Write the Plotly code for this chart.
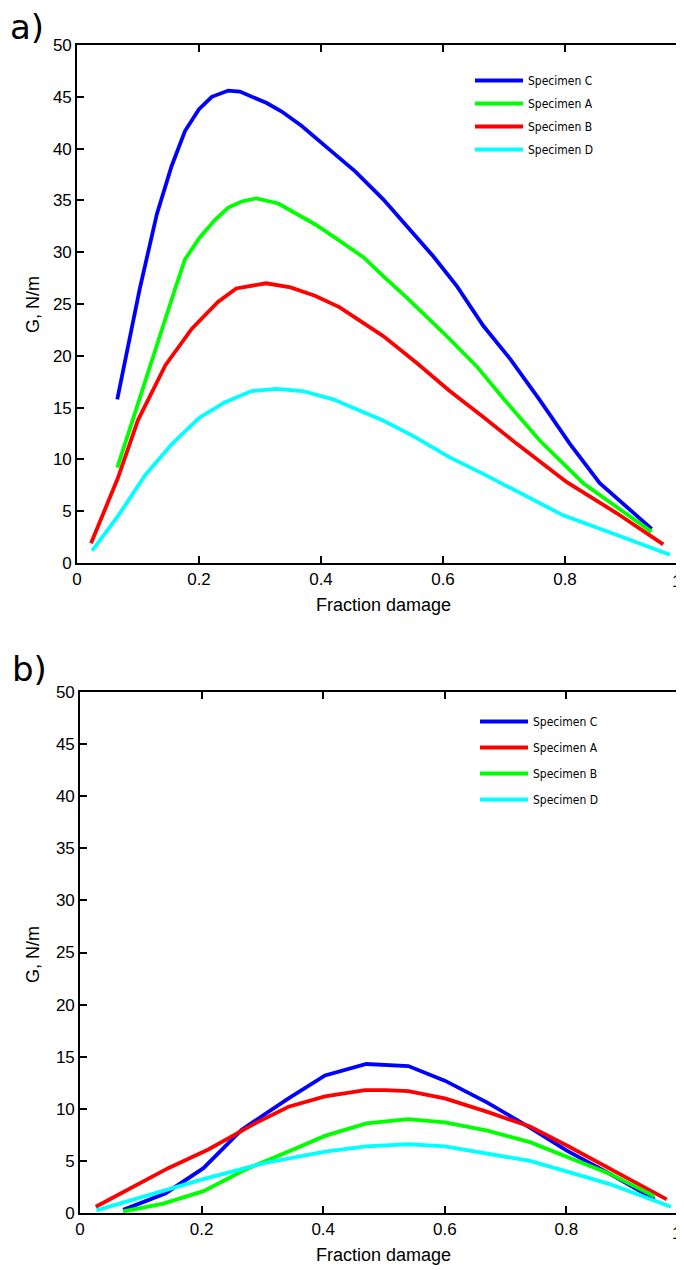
import plotly.graph_objects as go

# The page places the figure 8 px from the window's top-left corner,
# so the figure is 8 px smaller than the window and all positions are offset.
OFF = 8
WIN_W, WIN_H = 684, 1270
W, H = WIN_W - OFF, WIN_H - OFF

# ---------------- panel a) data ----------------
a_C_x = [0.066, 0.103, 0.131, 0.155, 0.177, 0.200, 0.221, 0.248, 0.267, 0.311, 0.335, 0.368, 0.412, 0.456,
         0.502, 0.546, 0.584, 0.623, 0.666, 0.710, 0.759, 0.808, 0.857, 0.942]
a_C_y = [15.8, 26.5, 33.7, 38.3, 41.7, 43.8, 45.0, 45.6, 45.5, 44.4, 43.6, 42.2, 40.0, 37.8,
         35.1, 32.2, 29.6, 26.7, 22.9, 19.7, 15.7, 11.5, 7.7, 3.3]

a_A_x = [0.066, 0.110, 0.161, 0.177, 0.201, 0.226, 0.248, 0.270, 0.294, 0.330, 0.363, 0.390, 0.423, 0.450,
         0.470, 0.502, 0.541, 0.601, 0.655, 0.700, 0.759, 0.830, 0.942]
a_A_y = [9.2, 17.3, 26.5, 29.3, 31.4, 33.1, 34.3, 34.9, 35.2, 34.7, 33.6, 32.7, 31.4, 30.3,
         29.5, 27.7, 25.6, 22.2, 19.0, 15.8, 11.8, 7.7, 3.0]

a_B_x = [0.023, 0.067, 0.100, 0.145, 0.188, 0.231, 0.261, 0.310, 0.350, 0.390, 0.430, 0.470, 0.502,
         0.557, 0.611, 0.666, 0.721, 0.803, 0.885, 0.961]
a_B_y = [1.9, 8.2, 13.8, 19.1, 22.6, 25.2, 26.5, 27.0, 26.6, 25.8, 24.7, 23.2, 21.9,
         19.3, 16.6, 14.1, 11.5, 7.8, 4.8, 1.8]

a_D_x = [0.025, 0.068, 0.112, 0.156, 0.200, 0.242, 0.286, 0.327, 0.370, 0.420, 0.460, 0.500, 0.550,
         0.611, 0.666, 0.721, 0.797, 0.885, 0.972]
a_D_y = [1.2, 4.6, 8.5, 11.5, 14.0, 15.5, 16.6, 16.8, 16.6, 15.8, 14.8, 13.8, 12.3,
         10.2, 8.6, 6.9, 4.6, 2.7, 0.8]

# ---------------- panel b) data ----------------
b_C_x = [0.071, 0.141, 0.203, 0.266, 0.343, 0.403, 0.471, 0.540, 0.600, 0.670, 0.740, 0.800, 0.870, 0.945]
b_C_y = [0.3, 1.9, 4.3, 8.0, 11.0, 13.2, 14.3, 14.1, 12.7, 10.6, 8.2, 6.0, 3.8, 1.3]

b_A_x = [0.026, 0.145, 0.211, 0.288, 0.343, 0.403, 0.469, 0.502, 0.540, 0.600, 0.670, 0.740, 0.800, 0.870, 0.965]
b_A_y = [0.6, 4.3, 6.1, 8.6, 10.2, 11.2, 11.8, 11.8, 11.7, 11.0, 9.7, 8.3, 6.5, 4.3, 1.3]

b_B_x = [0.071, 0.137, 0.203, 0.273, 0.343, 0.403, 0.471, 0.540, 0.600, 0.670, 0.740, 0.800, 0.870, 0.945]
b_B_y = [0.15, 0.9, 2.1, 4.2, 5.9, 7.4, 8.6, 9.0, 8.7, 7.9, 6.8, 5.4, 3.8, 1.6]

b_D_x = [0.027, 0.140, 0.200, 0.304, 0.403, 0.471, 0.540, 0.600, 0.670, 0.740, 0.800, 0.870, 0.972]
b_D_y = [0.25, 2.2, 3.2, 4.8, 5.9, 6.4, 6.6, 6.4, 5.7, 5.0, 4.0, 2.8, 0.6]

series_a = [("Specimen C", a_C_x, a_C_y, "#0000FF"),
            ("Specimen A", a_A_x, a_A_y, "#00FF00"),
            ("Specimen B", a_B_x, a_B_y, "#FF0000"),
            ("Specimen D", a_D_x, a_D_y, "#00FFFF")]
series_b = [("Specimen C", b_C_x, b_C_y, "#0000FF"),
            ("Specimen A", b_A_x, b_A_y, "#FF0000"),
            ("Specimen B", b_B_x, b_B_y, "#00FF00"),
            ("Specimen D", b_D_x, b_D_y, "#00FFFF")]

x_ticks = [0, 0.2, 0.4, 0.6, 0.8]
y_ticks = [0, 5, 10, 15, 20, 25, 30, 35, 40, 45, 50]

def px(x):
    return (x - OFF) / W

def py(y):
    return 1 - (y - OFF) / H

fig = go.Figure()
for i, (name, xs, ys, col) in enumerate(series_a):
    fig.add_trace(go.Scatter(x=xs, y=ys, mode="lines", name=name, line=dict(color=col, width=3.8),
                             xaxis="x", yaxis="y", legend="legend", legendgroup="a%d" % i))
for i, (name, xs, ys, col) in enumerate(series_b):
    fig.add_trace(go.Scatter(x=xs, y=ys, mode="lines", name=name, line=dict(color=col, width=3.8),
                             xaxis="x2", yaxis="y2", legend="legend2", legendgroup="b%d" % i))
# helper traces so the right-hand tick axes are drawn
fig.add_trace(go.Scatter(x=[0.5], y=[-10], mode="lines", showlegend=False, hoverinfo="skip",
                         xaxis="x", yaxis="y3"))
fig.add_trace(go.Scatter(x=[0.5], y=[-10], mode="lines", showlegend=False, hoverinfo="skip",
                         xaxis="x2", yaxis="y4"))

tickfont = dict(family="Liberation Sans, Arial, sans-serif", size=17, color="black")
axis_common = dict(showgrid=False, zeroline=False, showline=True, linecolor="black", linewidth=1.6,
                   ticks="inside", ticklen=7, tickwidth=1.5, tickcolor="black", tickfont=tickfont,
                   automargin=False)

top_dom = [py(563), py(45)]
bot_dom = [py(1213), py(692)]

legfont = dict(family="Liberation Sans Narrow, Arial Narrow, DejaVu Sans Condensed, Liberation Sans",
               size=12, color="black")

fig.update_layout(
    width=W, height=H,
    margin=dict(l=0, r=0, t=0, b=0, autoexpand=False),
    paper_bgcolor="white", plot_bgcolor="white",
    xaxis=dict(domain=[px(77), 1], range=[0, (WIN_W - 77) / 610], tickvals=x_ticks, mirror="ticks",
               anchor="y", **axis_common),
    yaxis=dict(domain=top_dom, range=[0, 50], tickvals=y_ticks, anchor="x", **axis_common),
    yaxis3=dict(overlaying="y", side="right", anchor="x", range=[0, 50], tickvals=y_ticks,
                showticklabels=False, showgrid=False, zeroline=False, showline=False, automargin=False,
                ticks="inside", ticklen=5, tickwidth=1.5, tickcolor="black"),
    xaxis2=dict(domain=[px(80), 1], range=[0, (WIN_W - 80) / 608], tickvals=x_ticks, mirror="ticks",
                anchor="y2", **axis_common),
    yaxis2=dict(domain=bot_dom, range=[0, 50], tickvals=y_ticks, anchor="x2", **axis_common),
    yaxis4=dict(overlaying="y2", side="right", anchor="x2", range=[0, 50], tickvals=y_ticks,
                showticklabels=False, showgrid=False, zeroline=False, showline=False, automargin=False,
                ticks="inside", ticklen=5, tickwidth=1.5, tickcolor="black"),
    legend=dict(x=px(470), y=py(66), xanchor="left", yanchor="top", bgcolor="rgba(0,0,0,0)",
                font=legfont, traceorder="grouped", tracegroupgap=4, itemwidth=48),
    legend2=dict(x=px(475), y=py(707), xanchor="left", yanchor="top", bgcolor="rgba(0,0,0,0)",
                 font=legfont, traceorder="grouped", tracegroupgap=7, itemwidth=48),
)

lab = dict(family="Liberation Sans, Arial, sans-serif", size=18, color="black")
big = dict(family="DejaVu Sans, Liberation Sans, sans-serif", size=34, color="black")
ann = [
    dict(text="a)", x=px(27), y=py(27), font=big, xanchor="center"),
    dict(text="b)", x=px(29), y=py(669), font=big, xanchor="center"),
    dict(text="G, N/m", x=px(33), y=py(305), font=lab, textangle=-90, xanchor="center"),
    dict(text="G, N/m", x=px(33), y=py(955), font=lab, textangle=-90, xanchor="center"),
    dict(text="Fraction damage", x=px(383), y=py(605), font=lab, xanchor="center"),
    dict(text="Fraction damage", x=px(383), y=py(1255), font=lab, xanchor="center"),
    dict(text="1", x=px(683), y=py(581), font=tickfont, xanchor="right"),
    dict(text="1", x=px(683), y=py(1233), font=tickfont, xanchor="right"),
]
for a in ann:
    fig.add_annotation(xref="paper", yref="paper", showarrow=False, yanchor="middle", **a)

fig.write_html("out.html")
